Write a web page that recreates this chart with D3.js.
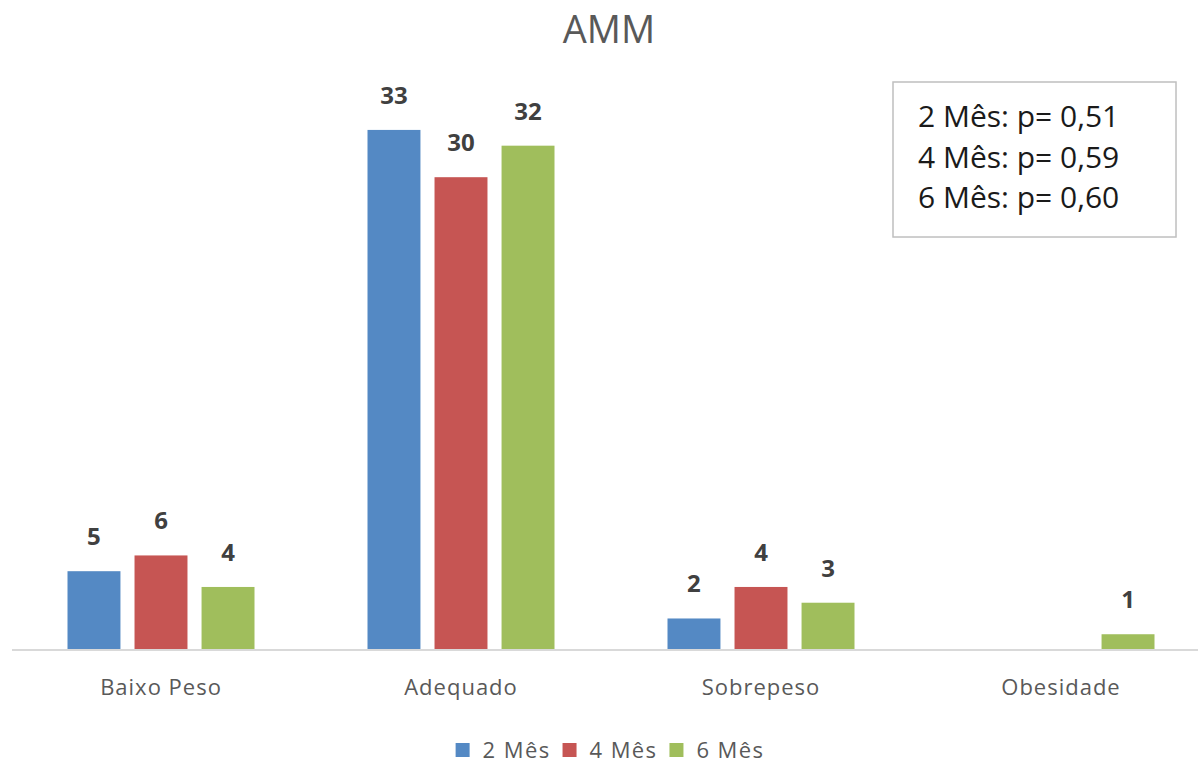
<!DOCTYPE html>
<html>
<head>
<meta charset="utf-8">
<script src="https://cdn.jsdelivr.net/npm/d3@7"></script>
<style>
  html, body { margin: 0; padding: 0; background: #fff; }
  svg { display: block; font-family: "Open Sans", "Noto Sans", sans-serif; }
</style>
</head>
<body>
<div id="chart"></div>
<script>
// data
var categories = ["Baixo Peso", "Adequado", "Sobrepeso", "Obesidade"];
var seriesNames = ["2 Mês", "4 Mês", "6 Mês"];
var seriesColors = ["#5489c4", "#c65553", "#a0be5c"];
var mes2 = [5, 33, 2, 0];
var mes4 = [6, 30, 4, 0];
var mes6 = [4, 32, 3, 1];
var pValues = ["2 Mês: p= 0,51", "4 Mês: p= 0,59", "6 Mês: p= 0,60"];
var title = "AMM";

var width = 1198, height = 765;
var baseY = 650;

var svg = d3.select("#chart").append("svg")
  .attr("width", width)
  .attr("height", height);

var values = [mes2, mes4, mes6];
var rows = categories.map(function(c, i) {
  return { cat: c, vals: values.map(function(s, j) { return { key: seriesNames[j], idx: j, v: s[i] }; }) };
});

var x = d3.scaleBand()
  .domain(categories)
  .range([11, 1211])
  .padding(0);

var x1 = d3.scaleBand()
  .domain(seriesNames)
  .range([56.5, 243.5])
  .paddingInner(0.21)
  .paddingOuter(0);

var y = d3.scaleLinear()
  .domain([0, 35])
  .range([baseY, 98.4]);

// title
svg.append("text")
  .attr("x", 609)
  .attr("y", 43)
  .attr("text-anchor", "middle")
  .attr("font-size", 38)
  .attr("fill", "#595959")
  .text(title);

// bars
var groups = svg.append("g").selectAll("g")
  .data(rows)
  .enter().append("g")
  .attr("transform", function(d) { return "translate(" + x(d.cat) + ",0)"; });

groups.selectAll("rect")
  .data(function(d) { return d.vals.filter(function(e) { return e.v > 0; }); })
  .enter().append("rect")
  .attr("x", function(d) { return x1(d.key); })
  .attr("y", function(d) { return y(d.v); })
  .attr("width", x1.bandwidth())
  .attr("height", function(d) { return baseY - y(d.v); })
  .attr("fill", function(d) { return seriesColors[d.idx]; });

groups.selectAll("text")
  .data(function(d) { return d.vals.filter(function(e) { return e.v > 0; }); })
  .enter().append("text")
  .attr("x", function(d) { return x1(d.key) + x1.bandwidth() / 2; })
  .attr("y", function(d) { return y(d.v) - 26; })
  .attr("text-anchor", "middle")
  .attr("font-size", 24)
  .attr("font-weight", "bold")
  .attr("fill", "#404040")
  .text(function(d) { return d.v; });

// axis
var axis = svg.append("g")
  .attr("transform", "translate(0," + baseY + ")")
  .call(d3.axisBottom(x).tickSize(0).tickPadding(29));
axis.select(".domain")
  .attr("d", "M12,0H" + width)
  .attr("stroke", "#d9d9d9")
  .attr("stroke-width", 2);
axis.selectAll(".tick text")
  .attr("font-family", "'Open Sans', sans-serif")
  .attr("font-size", 22)
  .attr("letter-spacing", 1)
  .attr("fill", "#595959");

// legend
var legend = svg.append("g");
var lx = 0;
seriesNames.forEach(function(name, i) {
  var item = legend.append("g").attr("transform", "translate(" + lx + ",0)");
  item.append("rect")
    .attr("x", 0).attr("y", -7)
    .attr("width", 14).attr("height", 14)
    .attr("fill", seriesColors[i]);
  var t = item.append("text")
    .attr("x", 27).attr("y", 8)
    .attr("font-size", 22)
    .attr("letter-spacing", 1.4)
    .attr("fill", "#595959")
    .text(name);
  lx += 27 + t.node().getComputedTextLength() + 12;
});
var legendW = lx - 12;
legend.attr("transform", "translate(" + (610 - legendW / 2) + ",750)");

// p-value box
var box = svg.append("g");
box.append("rect")
  .attr("x", 893).attr("y", 82)
  .attr("width", 283).attr("height", 155)
  .attr("fill", "#fff")
  .attr("stroke", "#bfbfbf")
  .attr("stroke-width", 1.5);
box.selectAll("text")
  .data(pValues)
  .enter().append("text")
  .attr("x", 918)
  .attr("y", function(d, i) { return 127 + i * 40.5; })
  .attr("font-size", 30)
  .attr("fill", "#1a1a1a")
  .text(function(d) { return d; });
</script>
</body>
</html>
